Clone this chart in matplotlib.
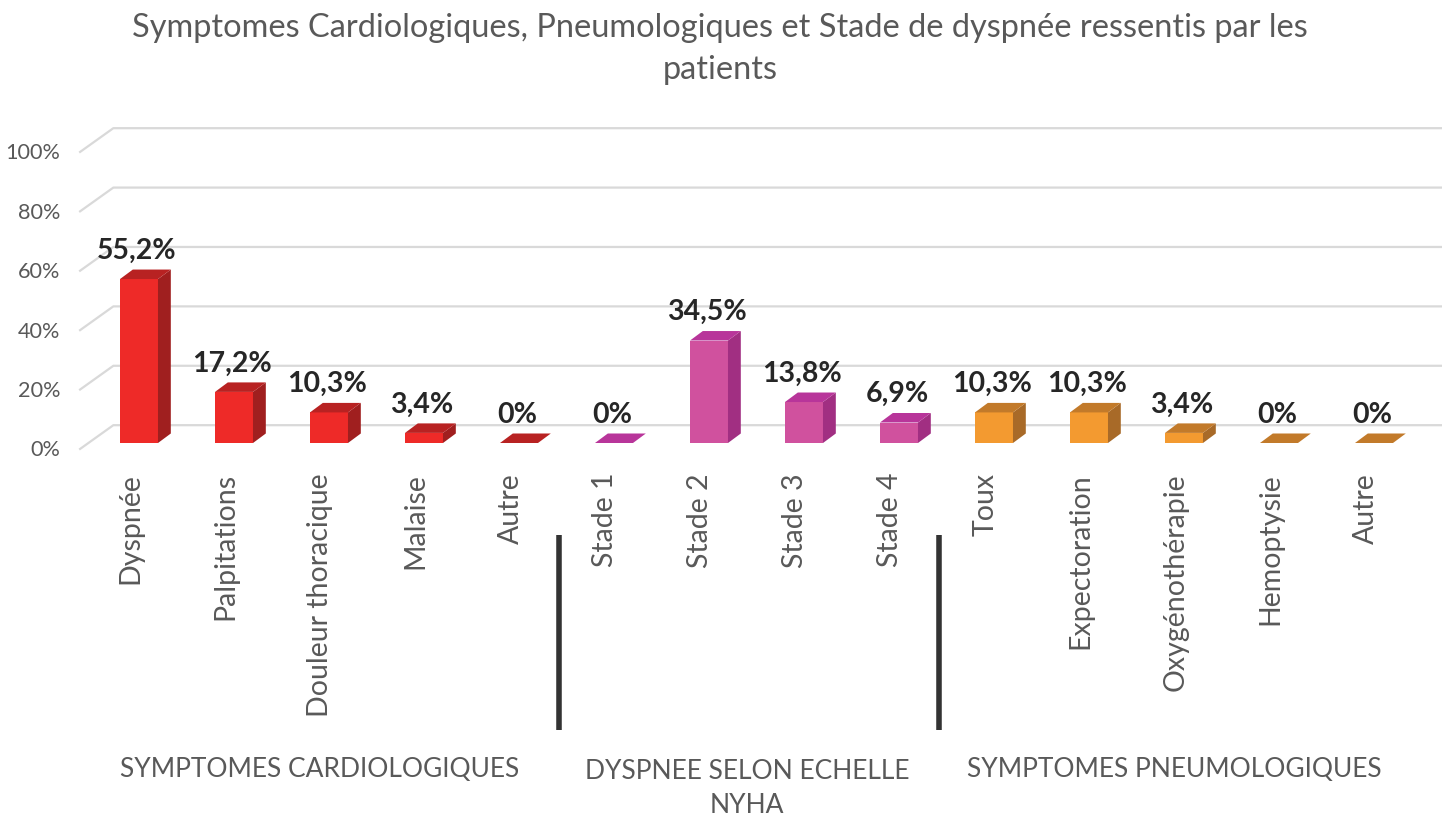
import numpy as np
import matplotlib
matplotlib.use("Agg")
import matplotlib.pyplot as plt
from matplotlib.patches import Polygon

plt.rcParams['font.family'] = ['Lato', 'DejaVu Sans']

# data
categories = ["Dyspnée", "Palpitations", "Douleur thoracique", "Malaise", "Autre",
              "Stade 1", "Stade 2", "Stade 3", "Stade 4",
              "Toux", "Expectoration", "Oxygénothérapie", "Hemoptysie", "Autre"]
values = [55.2, 17.2, 10.3, 3.4, 0,
          0, 34.5, 13.8, 6.9,
          10.3, 10.3, 3.4, 0, 0]
value_labels = ["55,2%", "17,2%", "10,3%", "3,4%", "0%",
                "0%", "34,5%", "13,8%", "6,9%",
                "10,3%", "10,3%", "3,4%", "0%", "0%"]
groups = ["SYMPTOMES CARDIOLOGIQUES", "DYSPNEE SELON ECHELLE\nNYHA", "SYMPTOMES PNEUMOLOGIQUES"]
group_sizes = [5, 4, 5]
y_ticks = [0, 20, 40, 60, 80, 100]

# colours per group: front, side, top
group_colors = [("#EE2A28", "#A01F1F", "#B82222"),
                ("#D0519E", "#A12F82", "#B8359A"),
                ("#F39A30", "#A86A28", "#C27A2A")]

fig = plt.figure(figsize=(14.42, 8.33), dpi=100)
ax = fig.add_axes([80 / 1442, (833 - 443) / 833, 1 - 80 / 1442, 297 / 833])
ax.set_xlim(-0.621, 13.716)
ax.set_ylim(0, 100)
ax.axis('off')

x = np.arange(len(categories))
bw = 0.4
ddx, ddy = 0.135, 3.2   # bar depth
gx0, gx1, gdy = -0.62, -0.27, 6.0  # wall gridline slant

# back wall gridlines + y labels
for v in y_ticks:
    ax.plot([gx0, gx1, 13.72], [v - 2, v + gdy, v + gdy], color="#D9D9D9", lw=1.6,
            clip_on=False, zorder=1)
    ax.text(-0.83, v - 2.5, f"{v}%", ha='right', va='center', fontsize=15.6,
            color="#595959", clip_on=False)

# colour index per category
col_idx = np.repeat(np.arange(len(groups)), group_sizes)
fronts = [group_colors[g][0] for g in col_idx]

ax.bar(x, values, width=bw, color=fronts, zorder=3)

for xi, v, g, lab in zip(x, values, col_idx, value_labels):
    front, side, top = group_colors[g]
    l, r = xi - bw / 2, xi + bw / 2
    if v > 0:
        ax.add_patch(Polygon([[r, 0], [r + ddx, ddy], [r + ddx, v + ddy], [r, v]],
                             closed=True, facecolor=side, edgecolor='none', zorder=3))
    ax.add_patch(Polygon([[l, v], [r, v], [r + ddx, v + ddy], [l + ddx, v + ddy]],
                         closed=True, facecolor=top, edgecolor='none', zorder=3))
    ax.text(xi - 0.02, v + ddy + 6.3, lab, ha='center', va='center', fontsize=20.5,
            fontweight='bold', color="#262626", zorder=4)

# category labels (rotated)
for xi, c in zip(x, categories):
    ax.text(xi - 0.09, -10.1, c, rotation=90, ha='center', va='top', fontsize=20.5,
            color="#595959", clip_on=False)

# group separators and labels
bounds = np.cumsum([0] + group_sizes)
for b in bounds[1:-1]:
    ax.plot([b - 0.5 - 0.08, b - 0.5 - 0.08], [-31, -96.5], color="#333333", lw=4,
            solid_capstyle='butt', clip_on=False)
for g, name in enumerate(groups):
    xc = (bounds[g] + bounds[g + 1] - 1) / 2 - 0.1
    yc = -116.3 if '\n' in name else -109.8
    ax.text(xc, yc, name, ha='center', va='center',
            fontsize=19, color="#595959", linespacing=1.45, clip_on=False)

fig.text(0.4993, 1 - 49 / 833,
         "Symptomes Cardiologiques, Pneumologiques et Stade de dyspnée ressentis par les\npatients",
         ha='center', va='center', fontsize=23.4, color="#595959", linespacing=1.5)

fig.savefig("out.png", dpi=100)
